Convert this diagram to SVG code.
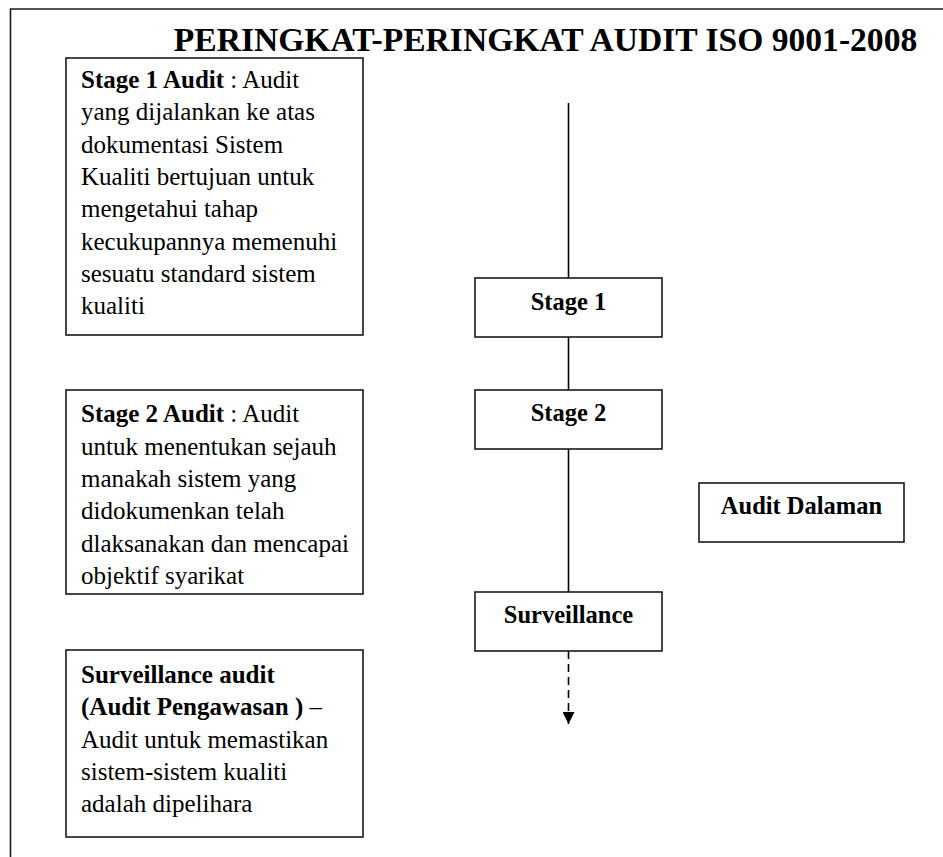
<svg xmlns="http://www.w3.org/2000/svg" width="943" height="857" viewBox="0 0 943 857">
  <style>
    .box { fill: #fff; stroke: #1a1a1a; stroke-width: 1.6; }
    .frame { fill: none; stroke: #1a1a1a; stroke-width: 1.6; }
    .body { font-family: "Liberation Serif", serif; font-size: 25px; fill: #000; }
    .b { font-weight: bold; }
    .node { font-family: "Liberation Serif", serif; font-size: 24.5px; font-weight: bold; fill: #000; text-anchor: middle; }
    .title { font-family: "Liberation Serif", serif; font-size: 33.6px; font-weight: bold; fill: #000; text-anchor: middle; }
    .conn { stroke: #000; stroke-width: 1.6; fill: none; }
    .dash { stroke: #000; stroke-width: 1.6; fill: none; stroke-dasharray: 8 5; }
  </style>
  <defs>
    <marker id="arrow" viewBox="0 0 12 12" refX="12" refY="6" markerWidth="12" markerHeight="12" markerUnits="userSpaceOnUse" orient="auto">
      <path d="M0,0 L12,6 L0,12 Z" fill="#000"/>
    </marker>
    <clipPath id="clip2">
      <rect x="66" y="391" width="297" height="198"/>
    </clipPath>
  </defs>

  <rect width="943" height="857" fill="#fff"/>
  <path class="frame" d="M10.5,857 L10.5,9 L943,9"/>

  <text id="title" class="title" x="545.5" y="51">PERINGKAT-PERINGKAT AUDIT ISO 9001-2008</text>

  <g id="desc-stage1">
    <rect class="box" x="66" y="58" width="297" height="277"/>
    <text class="body" x="81" y="88"><tspan class="b">Stage 1 Audit</tspan> : Audit</text>
    <text class="body" x="81" y="120">yang dijalankan ke atas</text>
    <text class="body" x="81" y="152.5">dokumentasi  Sistem</text>
    <text class="body" x="81" y="185">Kualiti bertujuan untuk</text>
    <text class="body" x="81" y="217">mengetahui tahap</text>
    <text class="body" x="81" y="249.5">kecukupannya memenuhi</text>
    <text class="body" x="81" y="281.5">sesuatu standard sistem</text>
    <text class="body" x="81" y="314">kualiti</text>
  </g>

  <g id="desc-stage2">
    <rect class="box" x="66" y="390" width="297" height="204"/>
    <g clip-path="url(#clip2)">
      <text class="body" x="81" y="422"><tspan class="b">Stage 2 Audit</tspan> : Audit</text>
      <text class="body" x="81" y="454.5">untuk menentukan sejauh</text>
      <text class="body" x="81" y="487">manakah sistem yang</text>
      <text class="body" x="81" y="519">didokumenkan telah</text>
      <text class="body" x="81" y="551.5">dlaksanakan dan mencapai</text>
      <text class="body" x="81" y="584">objektif syarikat</text>
    </g>
  </g>

  <g id="desc-surveillance">
    <rect class="box" x="66" y="650" width="297" height="187"/>
    <text class="body b" x="81" y="683">Surveillance audit</text>
    <text class="body" x="81" y="715"><tspan class="b">(Audit Pengawasan )</tspan> –</text>
    <text class="body" x="81" y="748">Audit untuk memastikan</text>
    <text class="body" x="81" y="780">sistem-sistem kualiti</text>
    <text class="body" x="81" y="812">adalah dipelihara</text>
  </g>

  <g id="connectors">
    <line class="conn" x1="568.5" y1="103" x2="568.5" y2="278"/>
    <line class="conn" x1="568.5" y1="337" x2="568.5" y2="390"/>
    <line class="conn" x1="568.5" y1="449" x2="568.5" y2="592"/>
    <line class="dash" x1="568.5" y1="651" x2="568.5" y2="724" marker-end="url(#arrow)"/>
  </g>

  <g id="stage1">
    <rect class="box" x="475" y="278" width="187" height="59"/>
    <text class="node" x="568.5" y="310">Stage 1</text>
  </g>

  <g id="stage2">
    <rect class="box" x="475" y="390" width="187" height="59"/>
    <text class="node" x="568.5" y="421">Stage 2</text>
  </g>

  <g id="surveillance">
    <rect class="box" x="475" y="592" width="187" height="59"/>
    <text class="node" x="568.5" y="623">Surveillance</text>
  </g>

  <g id="audit-dalaman">
    <rect class="box" x="699" y="483" width="205" height="59"/>
    <text class="node" x="801.5" y="514">Audit Dalaman</text>
  </g>
</svg>
